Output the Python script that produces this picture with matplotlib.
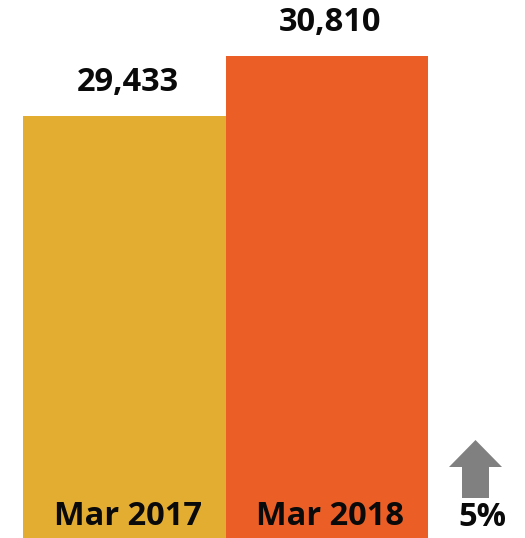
import matplotlib
matplotlib.use("Agg")
import matplotlib.pyplot as plt
from matplotlib.patches import Polygon

categories = ["Mar 2017", "Mar 2018"]
values = [29433, 30810]
value_labels = ["29,433", "30,810"]
change_label = "5%"
colors = ["#E3AD32", "#EB5F26"]

plt.rcParams['font.family'] = ['Open Sans', 'DejaVu Sans']

W, H = 525, 538
fig = plt.figure(figsize=(W / 100, H / 100), dpi=100)
ax = fig.add_axes([0, 0, 1, 1])
x = list(range(len(categories)))
ax.bar(x, values, width=1.0, color=colors, edgecolor='none')
ax.set_xlim(-0.6136, 1.979)
ax.set_ylim(19750, 32100)
ax.axis('off')

for xi, v, lab in zip(x, values, value_labels):
    ax.annotate(lab, (xi, v), xytext=(2.5, 24.5), textcoords='offset points',
                ha='center', va='center', fontsize=23.5, fontweight='bold', color='#0a0a0a')
for xi, cat in zip(x, categories):
    ax.annotate(cat, (xi, 0), xycoords=('data', 'axes fraction'), xytext=(2.5, 15.5),
                textcoords='offset points', ha='center', va='center',
                fontsize=23.5, fontweight='bold', color='#0a0a0a')

pts = [(462, 498), (489, 498), (489, 467), (502, 467), (475.5, 440), (449, 467), (462, 467)]
arrow = Polygon([(px / W, 1 - py / H) for px, py in pts], closed=True,
                transform=fig.transFigure, facecolor='#808080', edgecolor='none')
fig.patches.append(arrow)
fig.text(482 / W, 1 - 518 / H, change_label, ha='center', va='center',
         fontsize=23.5, fontweight='bold', color='#0a0a0a')

fig.savefig('out.png', dpi=100)
